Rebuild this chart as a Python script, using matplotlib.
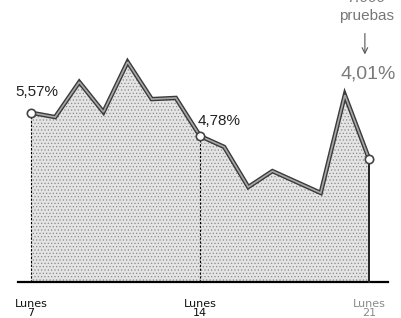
import numpy as np
import matplotlib
matplotlib.use("Agg")
import matplotlib.pyplot as plt

# positividad diaria (%), del lunes 7 al lunes 21
days = [7, 8, 9, 10, 11, 12, 13, 14, 15, 16, 17, 18, 19, 20, 21]
rate = [5.57, 5.42, 6.61, 5.59, 7.29, 6.03, 6.07, 4.78, 4.41, 3.05, 3.59, 3.22, 2.85, 6.17, 4.01]
marked_days = [7, 14, 21]
marked_labels = ["5,57%", "4,78%", "4,01%"]
tick_days = [7, 14, 21]
tick_labels = ["Lunes\n7", "Lunes\n14", "Lunes\n21"]
tests_label = "7.000"

plt.rcParams["hatch.color"] = "#666666"
plt.rcParams["hatch.linewidth"] = 0.5
plt.rcParams["font.family"] = ["Liberation Sans", "DejaVu Sans"]

fig = plt.figure(figsize=(4.01, 3.18), dpi=100)
ax = fig.add_axes([0, 0, 1, 1])
ax.set_xlim(5.716, 22.326)
ax.set_ylim(-1.39, 9.39)
ax.axis("off")

base = -0.17
ax.fill_between(days, rate, base, facecolor="#e4e4e4", edgecolor="#8a8a8a",
                hatch=".....", linewidth=0)
ax.plot(days, rate, color="#3a3a3a", linewidth=3.2, solid_joinstyle="miter", zorder=3)
ax.plot(days, rate, color="#a8a8a8", linewidth=1.2, solid_joinstyle="miter", zorder=4)
ax.plot([6.46, 21.79], [base, base], color="black", linewidth=1.6, zorder=5)

for d in marked_days:
    v = rate[days.index(d)]
    if d == 21:
        ax.plot([d, d], [base, v], color="#222222", linewidth=1.4, zorder=5)
    else:
        ax.plot([d, d], [base, v], color="black", linewidth=0.8,
                linestyle=(0, (2, 1.5)), zorder=5)
    ax.plot(d, v, "o", markersize=6, markerfacecolor="white",
            markeredgecolor="#444444", markeredgewidth=1.2, zorder=6)

ax.annotate(marked_labels[0], (7, 5.57), xytext=(-16, 14), textcoords="offset pixels",
            fontsize=11, color="#222222", ha="left", va="bottom")
ax.annotate(marked_labels[1], (14, 4.78), xytext=(-2, 8), textcoords="offset pixels",
            fontsize=11, color="#222222", ha="left", va="bottom")
ax.annotate(marked_labels[2], (21, 4.01), xytext=(-1, 76), textcoords="offset pixels",
            fontsize=14, color="#7a7a7a", ha="center", va="bottom")
ax.annotate("", xy=(20.83, 7.45), xytext=(20.83, 8.35),
            arrowprops=dict(arrowstyle="->", color="#555555", lw=0.8))
ax.text(20.88, 8.62, "pruebas", fontsize=11, color="#777777", ha="center", va="bottom")
ax.text(20.88, 9.22, tests_label, fontsize=11, color="#777777", ha="center",
        va="bottom", style="italic")

for d, lab in zip(tick_days, tick_labels):
    col = "#8a8a8a" if d == 21 else "#111111"
    ax.text(d, -0.74, lab, fontsize=8, color=col, ha="center", va="top",
            family="DejaVu Sans", linespacing=0.85)

fig.savefig("out.png", dpi=100)
